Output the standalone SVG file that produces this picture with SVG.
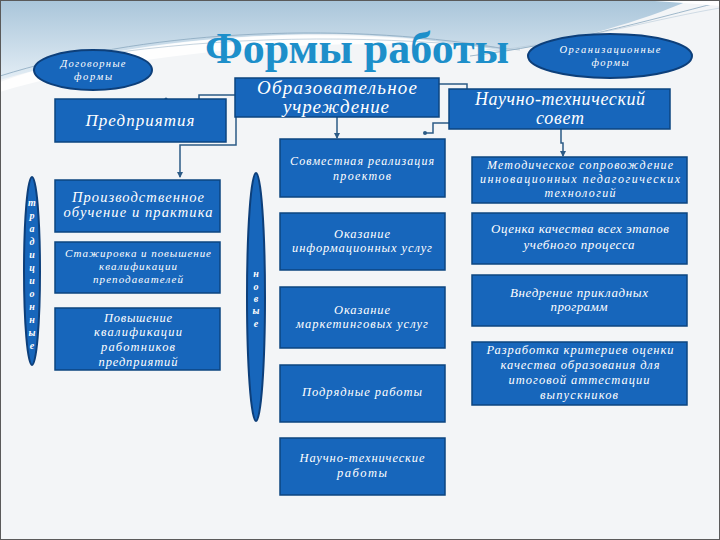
<svg xmlns="http://www.w3.org/2000/svg" width="720" height="540" viewBox="0 0 720 540">
<defs>
<linearGradient id="sky" x1="0" y1="0" x2="0" y2="1">
<stop offset="0" stop-color="#a9c5da"/>
<stop offset="1" stop-color="#e3edf5"/>
</linearGradient>
<marker id="arr" markerWidth="6" markerHeight="6" refX="5" refY="3" orient="auto" markerUnits="userSpaceOnUse">
<path d="M0,0 L6,3 L0,6 Z" fill="#2c5b86"/>
</marker>
<marker id="dot" markerWidth="5" markerHeight="5" refX="2.5" refY="2.5" markerUnits="userSpaceOnUse">
<circle cx="2.5" cy="2.5" r="2" fill="#2c5b86"/>
</marker>
</defs>
<style>
.box{fill:#1766bb;stroke:#0d4580;stroke-width:1.5}
.ell{fill:#1766bb;stroke:#0d3f7a;stroke-width:2}
.t{font-family:"Liberation Serif","DejaVu Serif",serif;font-style:italic;fill:#ffffff;text-anchor:middle}
.v{font-family:"Liberation Serif","DejaVu Serif",serif;font-style:italic;font-weight:bold;font-size:10px;fill:#ffffff;text-anchor:middle}
.c{fill:none;stroke:#2c5b86;stroke-width:1.5}
.title{font-family:"Liberation Serif","DejaVu Serif",serif;font-weight:bold;font-size:44px;fill:#1d8fca;text-anchor:middle}
</style>
<rect x="0" y="0" width="720" height="540" fill="#f3f5f7"/>
<path d="M0,0 H690 C640,22 570,42 500,52 C400,30 220,18 0,80 Z" fill="url(#sky)"/>
<path d="M0,82 C130,35 320,22 500,50 C330,35 140,50 0,92 Z" fill="#ffffff" opacity="0.85"/>
<path d="M0,76 C140,32 330,20 500,48" fill="none" stroke="#8aa8bf" stroke-width="0.8"/>
<path d="M120,52 C250,35 380,35 520,50" fill="none" stroke="#9fb7c9" stroke-width="0.6"/>
<path d="M470,56 C560,45 650,20 720,2" fill="none" stroke="#8aa8bf" stroke-width="0.8"/>
<path d="M500,50 C590,38 660,18 720,8" fill="none" stroke="#b7cad8" stroke-width="0.6"/>
<path d="M640,0 H720 V6 C700,4 670,2 640,0 Z" fill="#ffffff"/>
<rect x="0.5" y="0.5" width="719" height="539" fill="none" stroke="#5a5a5a" stroke-width="1"/>

<text class="title" x="357" y="63">Формы работы</text>

<g id="connectors">
<polyline class="c" points="235,95 199,95 199,99"/>
<circle cx="166" cy="99" r="1.6" fill="#2c5b86"/>
<polyline class="c" points="439,84 467,84 467,89"/>
<polyline class="c" points="236,117 236,145 180,145 180,177" marker-end="url(#arr)"/>
<polyline class="c" points="337,117 337,138" marker-end="url(#arr)"/>
<polyline class="c" points="449,123 433,123 433,133 425,133" marker-end="url(#dot)"/>
<polyline class="c" points="561,129 561,143 563,143 563,156" marker-end="url(#arr)"/>
</g>

<g id="dogovornye">
<ellipse class="ell" cx="93" cy="70" rx="59" ry="20"/>
<text class="t" font-size="10.5" x="93" y="67" textLength="65">Договорные</text>
<text class="t" font-size="10.5" x="93" y="80" textLength="38">формы</text>
</g>
<g id="organizatsionnye">
<ellipse class="ell" cx="610" cy="56" rx="82" ry="22"/>
<text class="t" font-size="10.5" x="610" y="53" textLength="101">Организационные</text>
<text class="t" font-size="10.5" x="610" y="66" textLength="37">формы</text>
</g>

<g id="obrazovatelnoe">
<rect class="box" x="235" y="78" width="204" height="39"/>
<text class="t" font-size="19" x="337" y="94" textLength="160">Образовательное</text>
<text class="t" font-size="19" x="336" y="113" textLength="106">учреждение</text>
</g>
<g id="nts">
<rect class="box" x="449" y="89" width="221" height="40"/>
<text class="t" font-size="18" x="560" y="105" textLength="170">Научно-технический</text>
<text class="t" font-size="18" x="560" y="124" textLength="48">совет</text>
</g>
<g id="predpriyatiya">
<rect class="box" x="55" y="99" width="171" height="43"/>
<text class="t" font-size="17" x="140" y="126" textLength="109">Предприятия</text>
</g>

<g id="traditsionnye">
<ellipse class="ell" cx="32" cy="271" rx="8" ry="94"/>
<text class="v" x="32" y="206">т</text>
<text class="v" x="32" y="219">р</text>
<text class="v" x="32" y="232">а</text>
<text class="v" x="32" y="245">д</text>
<text class="v" x="32" y="258">и</text>
<text class="v" x="32" y="271">ц</text>
<text class="v" x="32" y="284">и</text>
<text class="v" x="32" y="297">о</text>
<text class="v" x="32" y="310">н</text>
<text class="v" x="32" y="323">н</text>
<text class="v" x="32" y="336">ы</text>
<text class="v" x="32" y="349">е</text>
</g>

<g id="novye">
<ellipse class="ell" cx="256" cy="297" rx="9" ry="124"/>
<text class="v" x="256" y="277">н</text>
<text class="v" x="256" y="290">о</text>
<text class="v" x="256" y="302">в</text>
<text class="v" x="256" y="314">ы</text>
<text class="v" x="256" y="327">е</text>
</g>

<g id="proizvodstvennoe">
<rect class="box" x="55" y="180" width="165" height="52"/>
<text class="t" font-size="14.5" x="138" y="202" textLength="132">Производственное</text>
<text class="t" font-size="14.5" x="138" y="217" textLength="149">обучение и практика</text>
</g>
<g id="stazhirovka">
<rect class="box" x="55" y="242" width="165" height="51"/>
<text class="t" font-size="11" x="138" y="257" textLength="146">Стажировка и повышение</text>
<text class="t" font-size="11" x="138" y="270" textLength="78">квалификации</text>
<text class="t" font-size="11" x="138" y="283" textLength="90">преподавателей</text>
</g>
<g id="povyshenie">
<rect class="box" x="55" y="308" width="165" height="62"/>
<text class="t" font-size="12.5" x="138" y="322" textLength="68">Повышение</text>
<text class="t" font-size="12.5" x="138" y="336" textLength="88">квалификации</text>
<text class="t" font-size="12.5" x="138" y="351" textLength="74">работников</text>
<text class="t" font-size="12.5" x="138" y="366" textLength="79">предприятий</text>
</g>

<g id="sovmestnaya">
<rect class="box" x="280" y="139" width="165" height="58"/>
<text class="t" font-size="12" x="362" y="165" textLength="144">Совместная реализация</text>
<text class="t" font-size="12" x="362" y="180" textLength="58">проектов</text>
</g>
<g id="info">
<rect class="box" x="280" y="213" width="165" height="57"/>
<text class="t" font-size="12.5" x="362" y="238" textLength="56">Оказание</text>
<text class="t" font-size="12.5" x="362" y="252" textLength="140">информационных услуг</text>
</g>
<g id="marketing">
<rect class="box" x="280" y="287" width="165" height="61"/>
<text class="t" font-size="12.5" x="362" y="314" textLength="56">Оказание</text>
<text class="t" font-size="12.5" x="362" y="328" textLength="132">маркетинговых услуг</text>
</g>
<g id="podryadnye">
<rect class="box" x="280" y="365" width="165" height="57"/>
<text class="t" font-size="12.5" x="362" y="396" textLength="120">Подрядные работы</text>
</g>
<g id="nauchno-tech">
<rect class="box" x="280" y="438" width="165" height="57"/>
<text class="t" font-size="12.5" x="362" y="462" textLength="125">Научно-технические</text>
<text class="t" font-size="12.5" x="362" y="477" textLength="50">работы</text>
</g>

<g id="metodicheskoe">
<rect class="box" x="472" y="157" width="215" height="46"/>
<text class="t" font-size="12" x="580" y="169" textLength="186">Методическое сопровождение</text>
<text class="t" font-size="12" x="580" y="183" textLength="200">инновационных педагогических</text>
<text class="t" font-size="12" x="580" y="197" textLength="71">технологий</text>
</g>
<g id="otsenka">
<rect class="box" x="472" y="213" width="215" height="51"/>
<text class="t" font-size="13" x="580" y="233" textLength="178">Оценка качества всех этапов</text>
<text class="t" font-size="13" x="579" y="249" textLength="111">учебного процесса</text>
</g>
<g id="vnedrenie">
<rect class="box" x="472" y="275" width="215" height="51"/>
<text class="t" font-size="13" x="579" y="297" textLength="138">Внедрение прикладных</text>
<text class="t" font-size="13" x="579" y="311" textLength="57">программ</text>
</g>
<g id="razrabotka">
<rect class="box" x="472" y="342" width="215" height="63"/>
<text class="t" font-size="12.5" x="580" y="354" textLength="187">Разработка критериев оценки</text>
<text class="t" font-size="12.5" x="580" y="369" textLength="159">качества образования  для</text>
<text class="t" font-size="12.5" x="579" y="384" textLength="141">итоговой аттестации</text>
<text class="t" font-size="12.5" x="579" y="399" textLength="78">выпускников</text>
</g>
</svg>
